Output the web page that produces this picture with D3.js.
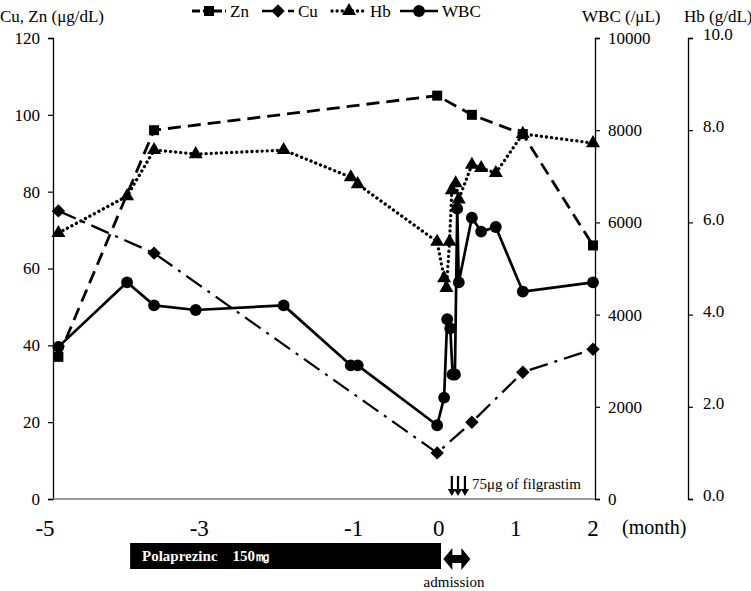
<!DOCTYPE html>
<html>
<head>
<meta charset="utf-8">
<script src="https://cdn.jsdelivr.net/npm/d3@7"></script>
<style>
  html, body { margin: 0; padding: 0; background: #fff; }
  svg, svg text { font-family: "Liberation Serif", Tinos, "Times New Roman", Times, "DejaVu Serif", serif !important; }
  svg text { fill: #000; }
</style>
</head>
<body>
<svg id="chart" width="751" height="591"></svg>
<script>
// ---------- data (months relative to admission) ----------
const znMonths  = [-4.93, -3.69, -0.02, 0.43, 1.09, 2.0];
const znValues  = [37, 96, 105, 100, 95, 66];

const cuMonths  = [-4.93, -3.69, -0.02, 0.43, 1.09, 2.0];
const cuValues  = [75, 64, 12, 20, 33, 39];

const hbMonths  = [-4.93, -4.04, -3.69, -3.15, -2.01, -1.14, -1.05, -0.02, 0.07, 0.10, 0.14, 0.17, 0.22, 0.26, 0.43, 0.55, 0.74, 1.09, 2.0];
const hbValues  = [5.77, 6.57, 7.57, 7.48, 7.57, 6.98, 6.83, 5.58, 4.79, 4.58, 5.58, 6.7, 6.85, 6.5, 7.25, 7.18, 7.07, 7.92, 7.72];

const wbcMonths = [-4.93, -4.04, -3.69, -3.15, -2.01, -1.14, -1.05, -0.02, 0.07, 0.11, 0.15, 0.18, 0.21, 0.24, 0.26, 0.43, 0.55, 0.74, 1.09, 2.0];
const wbcValues = [3300, 4700, 4200, 4100, 4200, 2900, 2900, 1600, 2200, 3900, 3700, 2700, 2700, 6300, 4700, 6100, 5800, 5900, 4500, 4700];

const xTickLabels   = [-5, -3, -1, 0, 1, 2];
const leftTicks     = [0, 20, 40, 60, 80, 100, 120];
const wbcTicks      = [0, 2000, 4000, 6000, 8000, 10000];
const hbTicks       = [0, 2, 4, 6, 8, 10];

const filgrastimMonths = [0.17, 0.25, 0.34];
const polaprezincPeriod = [-4.0, 0.03];
const admissionPeriod = [0.06, 0.41];

// ---------- layout ----------
const FONT = '"Liberation Serif", Tinos, "Times New Roman", Times, "DejaVu Serif", serif';
const svg = d3.select("#chart").attr("font-family", FONT);
const plotTop = 38, plotBottom = 499;
const leftAxisX = 53, wbcAxisX = 595, hbAxisX = 688;

const x = d3.scaleLinear().domain([-5, 2]).range([53, 593]);
const yL = d3.scaleLinear().domain([0, 120]).range([plotBottom, plotTop]);
const yW = d3.scaleLinear().domain([0, 10000]).range([plotBottom, plotTop]);
const yH = d3.scaleLinear().domain([0, 10]).range([plotBottom, plotTop]);

// ---------- axes ----------
const fontSize = 17;
const leftAxis = svg.append("g").attr("transform", `translate(${leftAxisX},0)`)
  .call(d3.axisLeft(yL).tickValues(leftTicks).tickSize(5).tickPadding(8).tickFormat(d3.format("d")));
const wbcAxis = svg.append("g").attr("transform", `translate(${wbcAxisX},0)`)
  .call(d3.axisRight(yW).tickValues(wbcTicks).tickSize(5).tickPadding(8).tickFormat(d3.format("d")));
const hbAxis = svg.append("g").attr("transform", `translate(${hbAxisX},0)`)
  .call(d3.axisRight(yH).tickValues(hbTicks).tickSize(5).tickPadding(10).tickFormat(d3.format(".1f")));
[leftAxis, wbcAxis, hbAxis].forEach(g => {
  g.attr("font-family", FONT).attr("font-size", fontSize);
  g.select(".domain").attr("stroke", "#000").attr("stroke-width", 1.3);
  g.selectAll(".tick line").attr("stroke", "#000").attr("stroke-width", 1.2);
  g.selectAll(".tick text").attr("font-size", fontSize).attr("font-family", FONT);
});
hbAxis.selectAll(".tick text").attr("dy", "0.1em");

// x baseline
svg.append("line")
  .attr("x1", leftAxisX).attr("x2", wbcAxisX)
  .attr("y1", plotBottom).attr("y2", plotBottom)
  .attr("stroke", "#7a7a7a").attr("stroke-width", 1.5);

// x labels
svg.append("g").selectAll("text").data(xTickLabels).join("text")
  .attr("x", d => x(d) + (d < 0 ? -8 : 0))
  .attr("y", 536)
  .attr("text-anchor", "middle")
  .attr("font-size", 23)
  .text(d => d < 0 ? "-" + Math.abs(d) : d);
svg.append("text").attr("x", 622).attr("y", 534).attr("font-size", 20).text("(month)");

// axis titles
svg.append("text").attr("x", 0).attr("y", 22).attr("font-size", 17).text("Cu, Zn (μg/dL)");
svg.append("text").attr("x", 582).attr("y", 22).attr("font-size", 17).text("WBC (/μL)");
svg.append("text").attr("x", 684).attr("y", 22).attr("font-size", 17).text("Hb (g/dL)");

// ---------- series ----------
const series = [
  {name: "Zn",  xs: znMonths,  ys: znValues,  y: yL, dash: "13,7",      width: 2.8, cap: "butt",  sym: d3.symbolSquare,   size: 100},
  {name: "Cu",  xs: cuMonths,  ys: cuValues,  y: yL, dash: "19,7,3,7",  width: 2.3, cap: "butt",  sym: d3.symbolDiamond2, size: 115},
  {name: "Hb",  xs: hbMonths,  ys: hbValues,  y: yH, dash: "0.1,5",     width: 3.3, cap: "round", sym: d3.symbolTriangle, size: 85},
  {name: "WBC", xs: wbcMonths, ys: wbcValues, y: yW, dash: null,        width: 2.7, cap: "butt",  sym: d3.symbolCircle,   size: 110},
];

series.forEach(s => {
  const pts = s.xs.map((m, i) => [m, s.ys[i]]);
  const line = d3.line().x(d => x(d[0])).y(d => s.y(d[1]));
  svg.append("path").datum(pts)
    .attr("d", line)
    .attr("fill", "none")
    .attr("stroke", "#000")
    .attr("stroke-width", s.width)
    .attr("stroke-linecap", s.cap)
    .attr("stroke-linejoin", "round")
    .attr("stroke-dasharray", s.dash);
  svg.append("g").selectAll("path").data(pts).join("path")
    .attr("transform", d => `translate(${x(d[0])},${s.y(d[1])})`)
    .attr("d", d3.symbol().type(s.sym).size(s.size))
    .attr("fill", "#000");
});

// ---------- legend ----------
const legendItems = [
  {s: series[0], x0: 192, tx: 230},
  {s: series[1], x0: 262, tx: 298},
  {s: series[2], x0: 332, tx: 370},
  {s: series[3], x0: 400, tx: 442},
];
const legendY = 11;
legendItems.forEach(it => {
  const s = it.s;
  const w = it.tx - it.x0 - 4;
  svg.append("line")
    .attr("x1", it.x0).attr("x2", it.x0 + w)
    .attr("y1", legendY).attr("y2", legendY)
    .attr("stroke", "#000").attr("stroke-width", s.width)
    .attr("stroke-linecap", s.cap)
    .attr("stroke-dasharray", s.name === "Zn" ? "8,3" : s.name === "Cu" ? "14,5,2,5" : s.dash);
  svg.append("path")
    .attr("transform", `translate(${it.x0 + w / 2},${legendY})`)
    .attr("d", d3.symbol().type(s.sym).size(s.size))
    .attr("fill", "#000");
  svg.append("text").attr("x", it.tx).attr("y", legendY + 6).attr("font-size", 17).text(s.name);
});

// ---------- filgrastim arrows ----------
const arrowTop = 476, arrowBottom = 496;
const fg = svg.append("g");
filgrastimMonths.forEach(m => {
  const cx = x(m);
  fg.append("line").attr("x1", cx).attr("x2", cx).attr("y1", arrowTop).attr("y2", arrowBottom - 6)
    .attr("stroke", "#000").attr("stroke-width", 2.2);
  fg.append("path")
    .attr("d", `M${cx - 4},${arrowBottom - 7} L${cx + 4},${arrowBottom - 7} L${cx},${arrowBottom} Z`)
    .attr("fill", "#000");
});
svg.append("text").attr("x", 472).attr("y", 489).attr("font-size", 15).text("75μg of filgrastim");

// ---------- polaprezinc bar ----------
svg.append("rect")
  .attr("x", x(polaprezincPeriod[0])).attr("y", 543)
  .attr("width", x(polaprezincPeriod[1]) - x(polaprezincPeriod[0])).attr("height", 26)
  .attr("fill", "#000");
svg.append("text").attr("x", 142).attr("y", 561).attr("font-size", 15).attr("font-weight", "bold")
  .style("fill", "#fff").attr("xml:space", "preserve").text("Polaprezinc    150㎎");

// ---------- admission double arrow ----------
const ax0 = x(admissionPeriod[0]), ax1 = x(admissionPeriod[1]), ay = 559;
svg.append("path")
  .attr("d", `M${ax0},${ay} L${ax0 + 9},${ay - 11} L${ax0 + 9},${ay - 4} L${ax1 - 9},${ay - 4} L${ax1 - 9},${ay - 11} L${ax1},${ay} L${ax1 - 9},${ay + 11} L${ax1 - 9},${ay + 4} L${ax0 + 9},${ay + 4} L${ax0 + 9},${ay + 11} Z`)
  .attr("fill", "#000");
svg.append("text").attr("x", 454).attr("y", 587).attr("text-anchor", "middle").attr("font-size", 15).text("admission");
</script>
</body>
</html>
